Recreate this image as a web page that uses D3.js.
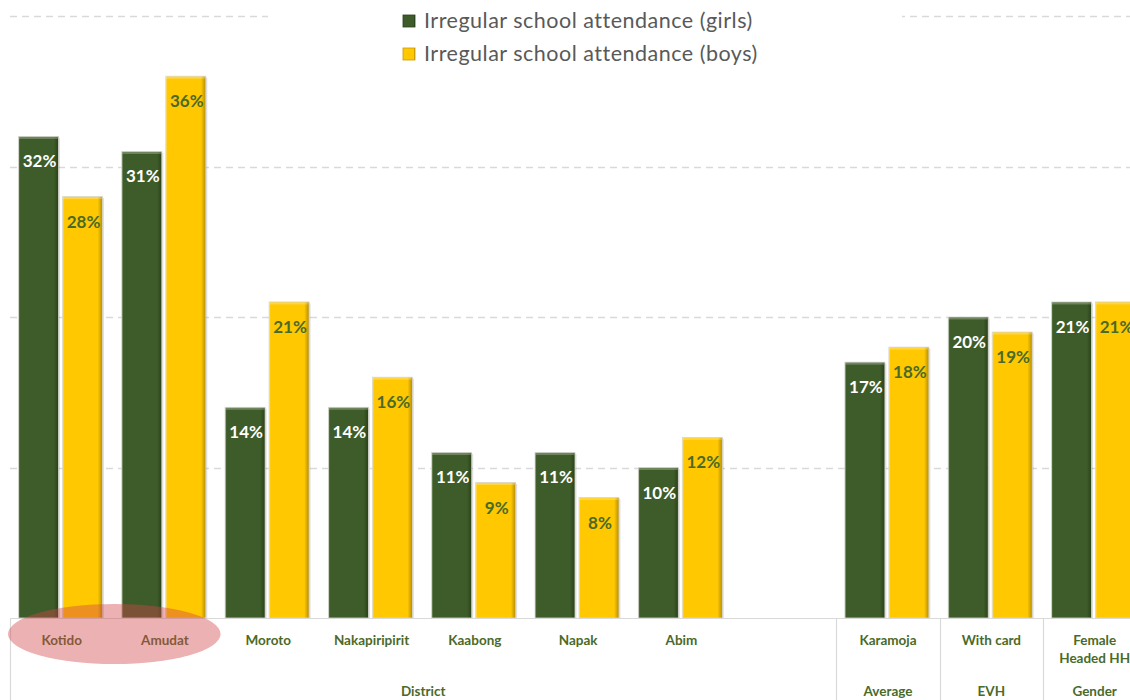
<!DOCTYPE html>
<html>
<head>
<meta charset="utf-8">
<script src="https://cdn.jsdelivr.net/npm/d3@7"></script>
<style>
  html, body { margin: 0; padding: 0; background: #ffffff; }
  svg { display: block; }
  text { font-family: Lato, "Open Sans", "Liberation Sans", sans-serif; }
</style>
</head>
<body>
<svg id="chart" width="1130" height="700"></svg>
<script>
// Irregular school attendance by district and group
const categories = ["Kotido", "Amudat", "Moroto", "Nakapiripirit", "Kaabong", "Napak", "Abim", "", "Karamoja", "With card", "Female|Headed HH"];
const groups = ["District", "District", "District", "District", "District", "District", "District", "District", "Average", "EVH", "Gender"];
const girls = [32, 31, 14, 14, 11, 11, 10, null, 17, 20, 21];
const boys  = [28, 36, 21, 16, 9, 8, 12, null, 18, 19, 21];
const seriesNames = ["Irregular school attendance (girls)", "Irregular school attendance (boys)"];
const yTicks = [10, 20, 30, 40];
const highlighted = ["Kotido", "Amudat"];

const W = 1130, H = 700;
const svg = d3.select("#chart");
const baseY = 618;

const x = d3.scaleBand().domain(d3.range(categories.length)).range([10, 10 + 103.3 * categories.length]).padding(0);
const xs = d3.scaleBand().domain(["girls", "boys"]).range([8.5, 8.5 + 84]).paddingInner(0.09).paddingOuter(0);
const y = d3.scaleLinear().domain([0, 40]).range([baseY, 16]);

const colGirls = "#3e5c29", colBoys = "#ffc800";
const labelGreen = "#4a6a2a";

// gradients giving the bars a bevelled look
const defs = svg.append("defs");
function bevel(id, light, mid, dark) {
  const g = defs.append("linearGradient").attr("id", id).attr("x1", 0).attr("x2", 1).attr("y1", 0).attr("y2", 0);
  g.append("stop").attr("offset", "0%").attr("stop-color", light);
  g.append("stop").attr("offset", "4%").attr("stop-color", mid);
  g.append("stop").attr("offset", "88%").attr("stop-color", mid);
  g.append("stop").attr("offset", "100%").attr("stop-color", dark);
}
bevel("gGirls", "#6b8552", colGirls, "#2a4019");
bevel("gBoys", "#ffe070", colBoys, "#b58c00");

// gridlines
svg.append("g").selectAll("line").data(yTicks).join("line")
  .attr("x1", 10).attr("x2", W)
  .attr("y1", d => Math.round(y(d)) + 0.5).attr("y2", d => Math.round(y(d)) + 0.5)
  .attr("stroke", "#d9d9d9").attr("stroke-width", 1.3).attr("stroke-dasharray", "7,5");

// bars
const rows = categories.map((c, i) => ({ i, c, girls: girls[i], boys: boys[i] }));
const barG = svg.append("g");
const series = [
  { key: "girls", fill: "url(#gGirls)", txt: "#ffffff" },
  { key: "boys", fill: "url(#gBoys)", txt: labelGreen }
];
series.forEach(s => {
  const data = rows.filter(r => r[s.key] != null);
  // soft shadow
  barG.append("g").selectAll("rect").data(data).join("rect")
    .attr("x", d => x(d.i) + xs(s.key) + 1.5)
    .attr("y", d => y(d[s.key]) + 1.5)
    .attr("width", xs.bandwidth())
    .attr("height", d => baseY - y(d[s.key]) - 1.5)
    .attr("fill", "#000").attr("opacity", 0.12);
  barG.append("g").selectAll("rect").data(data).join("rect")
    .attr("x", d => x(d.i) + xs(s.key))
    .attr("y", d => y(d[s.key]))
    .attr("width", xs.bandwidth())
    .attr("height", d => baseY - y(d[s.key]))
    .attr("fill", s.fill)
    .attr("stroke", "#d8d8d0").attr("stroke-width", 0.8);
  // top edge highlight
  barG.append("g").selectAll("rect").data(data).join("rect")
    .attr("x", d => x(d.i) + xs(s.key) + 0.5)
    .attr("y", d => y(d[s.key]) + 0.5)
    .attr("width", xs.bandwidth() - 1)
    .attr("height", 2)
    .attr("fill", "#ffffff").attr("opacity", 0.25);
  barG.append("g").selectAll("text").data(data).join("text")
    .attr("x", d => x(d.i) + xs(s.key) + xs.bandwidth() / 2 + 1)
    .attr("y", d => y(d[s.key]) + 31)
    .attr("text-anchor", "middle")
    .attr("font-size", 17).attr("font-weight", 700)
    .attr("fill", s.txt)
    .text(d => d[s.key] + "%");
});

// category axis
const axis = svg.append("g");
axis.append("line").attr("x1", 10).attr("x2", W).attr("y1", baseY + 0.5).attr("y2", baseY + 0.5)
  .attr("stroke", "#d9d9d9").attr("stroke-width", 1.2);
// group separators
const groupSpans = [];
groups.forEach((g, i) => {
  const last = groupSpans[groupSpans.length - 1];
  if (last && last.name === g) last.end = i; else groupSpans.push({ name: g, start: i, end: i });
});
axis.selectAll("line.sep").data(groupSpans).join("line").attr("class", "sep")
  .attr("x1", d => Math.round(x(d.start)) + 0.5).attr("x2", d => Math.round(x(d.start)) + 0.5)
  .attr("y1", baseY).attr("y2", H)
  .attr("stroke", "#d9d9d9").attr("stroke-width", 1.2);

axis.selectAll("text.cat").data(rows).join("text").attr("class", "cat")
  .attr("x", d => x(d.i) + x.bandwidth() / 2)
  .attr("y", 645)
  .attr("text-anchor", "middle")
  .attr("font-size", 13.5).attr("font-weight", 700).attr("fill", labelGreen)
  .each(function (d) {
    const parts = d.c.split("|");
    d3.select(this).selectAll("tspan").data(parts).join("tspan")
      .attr("x", x(d.i) + x.bandwidth() / 2)
      .attr("dy", (p, k) => k === 0 ? 0 : 18)
      .text(p => p);
  });

axis.selectAll("text.grp").data(groupSpans).join("text").attr("class", "grp")
  .attr("x", d => (x(d.start) + x(d.end) + x.bandwidth()) / 2)
  .attr("y", 696)
  .attr("text-anchor", "middle")
  .attr("font-size", 13.5).attr("font-weight", 700).attr("fill", labelGreen)
  .text(d => d.name);

// highlight ring around the first two districts
const hx0 = x(categories.indexOf(highlighted[0])), hx1 = x(categories.indexOf(highlighted[1])) + x.bandwidth();
svg.append("ellipse")
  .attr("cx", (hx0 + hx1) / 2 + 1).attr("cy", 634)
  .attr("rx", (hx1 - hx0) / 2 + 3).attr("ry", 30)
  .attr("fill", "#d2464b").attr("opacity", 0.42);

// legend
const legend = svg.append("g");
legend.append("rect").attr("x", 268).attr("y", 0).attr("width", 634).attr("height", 70).attr("fill", "#ffffff");
const legendColors = ["url(#gGirls)", "url(#gBoys)"];
seriesNames.forEach((name, k) => {
  const ly = 21 + k * 33;
  legend.append("rect").attr("x", 403).attr("y", ly - 6).attr("width", 12).attr("height", 12)
    .attr("fill", legendColors[k]).attr("stroke", k === 0 ? "#2a4019" : "#c89a00").attr("stroke-width", 0.8);
  legend.append("text").attr("x", 424).attr("y", ly + 7)
    .attr("font-size", 21.5).attr("letter-spacing", 0.5).attr("fill", "#595959").text(name);
});
</script>
</body>
</html>
